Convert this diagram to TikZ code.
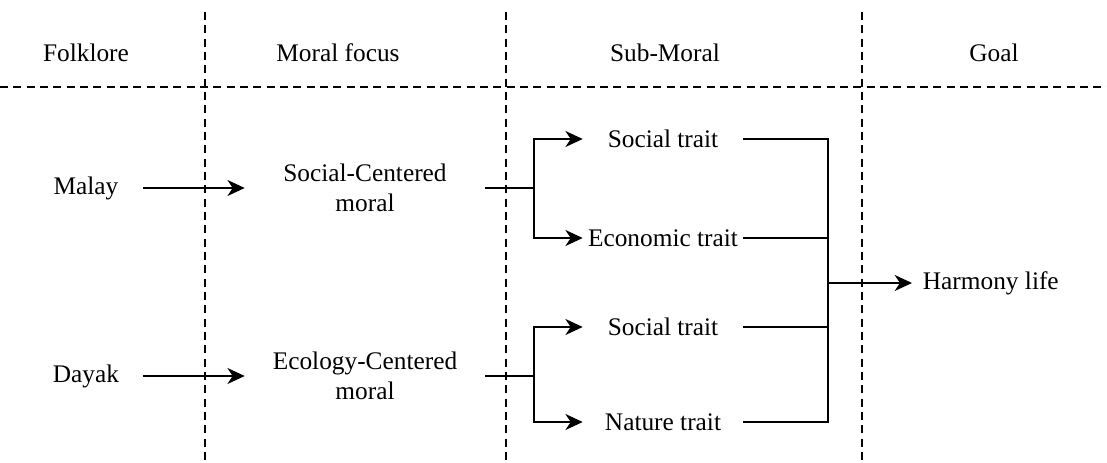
\documentclass[tikz,border=0pt]{standalone}
\usepackage{fontspec}
\setmainfont{Liberation Serif}
\usetikzlibrary{arrows.meta}
\begin{document}
\begin{tikzpicture}[x=0.75pt,y=-0.75pt,
  every node/.style={font=\fontsize{19}{23}\selectfont, inner sep=0pt},
  sep/.style={dash pattern=on 6pt off 4pt, line width=1.1pt},
  link/.style={line width=1.4pt},
  flow/.style={link,-{Stealth[length=13pt,width=12pt,inset=4pt]}},
  folk/.style={minimum width=85pt, align=center},
  focus/.style={minimum width=180pt, align=center},
  trait/.style={minimum width=120pt},
]
\useasboundingbox (0,0) rectangle (1107,463);

% column separators and header rule
\draw[sep] (205,12) -- (205,463);
\draw[sep] (506,12) -- (506,463);
\draw[sep] (862,12) -- (862,463);
\draw[sep] (0,87) -- (1107,87);

% column headings
\node (hfolk) at (86,53) {Folklore};
\node (hmoral) at (338,53) {Moral focus};
\node (hsub) at (665,53) {Sub-Moral};
\node (hgoal) at (994,53) {Goal};

% folklore
\node[folk] (malay) at (86,188) {Malay};
\node[folk] (dayak) at (86,376) {Dayak};

% moral focus
\node[focus] (social) at (365,188) {Social-Centered\\moral};
\node[focus] (ecology) at (365,376) {Ecology-Centered\\moral};

% sub-morals
\node[trait] (s1) at (663,139) {Social trait};
\node[trait] (econ) at (663,238) {Economic trait};
\node[trait] (s2) at (663,327) {Social trait};
\node[trait] (nature) at (663,422) {Nature trait};

% goal
\node[anchor=west, inner xsep=8pt] (harmony) at (912,283) {Harmony life};

% branch and junction points
\coordinate (b1) at (534,188);
\coordinate (b2) at (534,376);
\coordinate (j) at (828,283);

\draw[flow] (malay) -- (social);
\draw[flow] (dayak) -- (ecology);

\draw[link] (social.east) -- (b1);
\draw[flow] (b1) |- (s1.west);
\draw[flow] (b1) |- (econ.west);

\draw[link] (ecology.east) -- (b2);
\draw[flow] (b2) |- (s2.west);
\draw[flow] (b2) |- (nature.west);

\draw[link] (s1.east) -| (j);
\draw[link] (econ.east) -| (j);
\draw[link] (s2.east) -| (j);
\draw[link] (nature.east) -| (j);
\draw[flow] (j) -- (harmony.west);
\end{tikzpicture}
\end{document}
